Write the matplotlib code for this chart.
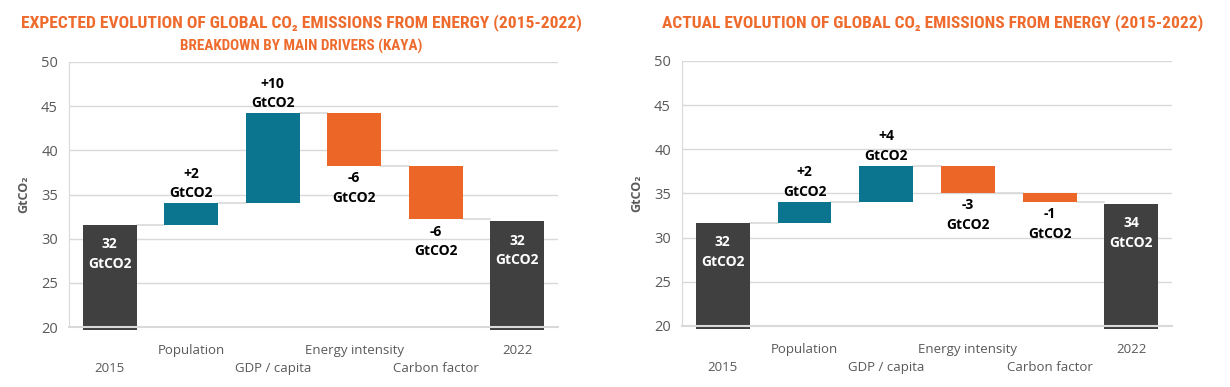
import numpy as np
import matplotlib
matplotlib.use("Agg")
import matplotlib.pyplot as plt
from matplotlib import font_manager

# categories (two rows of tick labels, alternating)
categories = ["2015", "Population", "GDP / capita", "Energy intensity", "Carbon factor", "2022"]

# expected evolution (Kaya breakdown)
exp_start = 31.6
exp_deltas = [2.45, 10.15, -5.95, -6.05]
exp_end = 32.0
exp_labels = ["32\nGtCO2", "+2\nGtCO2", "+10\nGtCO2", "-6\nGtCO2", "-6\nGtCO2", "32\nGtCO2"]

# actual evolution
act_start = 31.65
act_deltas = [2.4, 4.1, -3.1, -1.0]
act_end = 33.8
act_labels = ["32\nGtCO2", "+2\nGtCO2", "+4\nGtCO2", "-3\nGtCO2", "-1\nGtCO2", "34\nGtCO2"]

TEAL = "#0B758F"
ORANGE = "#EC6727"
DARK = "#404040"
GRID = "#D9D9D9"
TXT = "#595959"
TITLE = "#EE6B2D"

BODY_FONT = ["Open Sans", "DejaVu Sans"]


def pick_title_font():
    # look for a narrow / condensed bold face, else fall back to Roboto
    entries = font_manager.fontManager.ttflist
    for want in ["Roboto Condensed", "Open Sans Condensed", "Liberation Sans Narrow",
                 "DejaVu Sans Condensed"]:
        for e in entries:
            if e.name == want:
                return dict(family=[want, "DejaVu Sans"])
    for e in entries:
        if e.name in ("DejaVu Sans", "Roboto", "Open Sans") and "condensed" in str(e.stretch):
            return dict(family=[e.name, "DejaVu Sans"], fontstretch="condensed")
    return dict(family=["Roboto", "DejaVu Sans"])


TITLE_KW = pick_title_font()


def waterfall(ax, start, deltas, end, labels):
    x = np.arange(len(categories))
    w = 0.66
    base = 19.65
    lab_kw = dict(textcoords="offset points", ha="center", fontsize=10,
                  fontweight="bold", family=BODY_FONT, linespacing=1.5)
    # start / end totals
    ax.bar([x[0], x[-1]], [start - base, end - base], bottom=base, width=w,
           color=DARK, clip_on=False, zorder=2)
    levels = [start]
    for i, d in enumerate(deltas):
        prev = levels[-1]
        lo, hi = min(prev, prev + d), max(prev, prev + d)
        ax.bar(x[i + 1], hi - lo, bottom=lo, width=w,
               color=TEAL if d > 0 else ORANGE, zorder=2)
        levels.append(prev + d)
    levels.append(end)

    # connector lines
    for i in range(len(levels) - 1):
        ax.plot([x[i] + w / 2, x[i + 1] - w / 2], [levels[i], levels[i]],
                color=GRID, lw=1.2, zorder=1.5)

    # labels
    ax.annotate(labels[0], (x[0], start), xytext=(0, -9), va="top", color="white", **lab_kw)
    ax.annotate(labels[-1], (x[-1], end), xytext=(0, -9), va="top", color="white", **lab_kw)
    for i, d in enumerate(deltas):
        top = levels[i] + d
        if d > 0:
            ax.annotate(labels[i + 1], (x[i + 1], top), xytext=(0, 2),
                        va="bottom", color="black", **lab_kw)
        else:
            ax.annotate(labels[i + 1], (x[i + 1], top), xytext=(0, -4),
                        va="top", color="black", **lab_kw)

    ax.set_xlim(-0.5, len(categories) - 0.5)
    ax.set_ylim(20, 50)
    ax.set_yticks(np.arange(20, 51, 5))
    ax.set_xticks(x)
    ax.set_xticklabels(categories, family=BODY_FONT, fontsize=9.5, color=TXT)
    ax.tick_params(axis="x", length=0)
    for i, t in enumerate(ax.xaxis.get_major_ticks()):
        t.set_pad(25 if i % 2 == 0 else 12)
    ax.tick_params(axis="y", length=0, pad=8, labelsize=10.5, labelcolor=TXT)
    for lab in ax.get_yticklabels():
        lab.set_family(BODY_FONT)
    ax.yaxis.grid(True, color=GRID, lw=1)
    ax.set_axisbelow(True)
    for s in ["top", "right"]:
        ax.spines[s].set_visible(False)
    ax.spines["left"].set_color(GRID)
    ax.spines["bottom"].set_color(GRID)
    ax.spines["bottom"].set_linewidth(1.5)
    ax.spines["bottom"].set_zorder(3)
    ax.set_ylabel("GtCO₂", family=BODY_FONT, fontsize=9, fontweight="bold",
                  color=TXT, labelpad=8)


fig = plt.figure(figsize=(12.3, 3.87), dpi=100)
ax1 = fig.add_axes([0.0561, 0.155, 0.3976, 0.6848])
ax2 = fig.add_axes([0.5545, 0.158, 0.3984, 0.6848])

waterfall(ax1, exp_start, exp_deltas, exp_end, exp_labels)
waterfall(ax2, act_start, act_deltas, act_end, act_labels)

titles = [
    (0.2447, 0.943, "EXPECTED EVOLUTION OF GLOBAL CO₂ EMISSIONS FROM ENERGY (2015-2022)", 562, 14),
    (0.2447, 0.881, "BREAKDOWN BY MAIN DRIVERS (KAYA)", 242, 11),
    (0.7580, 0.943, "ACTUAL EVOLUTION OF GLOBAL CO₂ EMISSIONS FROM ENERGY (2015-2022)", 545, 14),
]
renderer = fig.canvas.get_renderer()
for tx, ty, s, target_w, size in titles:
    t = fig.text(tx, ty, s, ha="center", va="center", color=TITLE, fontsize=size,
                 fontweight="bold", **TITLE_KW)
    # shrink to the reference width if the font runs wider
    w = t.get_window_extent(renderer).width
    if w > target_w:
        t.set_fontsize(size * target_w / w)

fig.savefig("out.png", dpi=100)
